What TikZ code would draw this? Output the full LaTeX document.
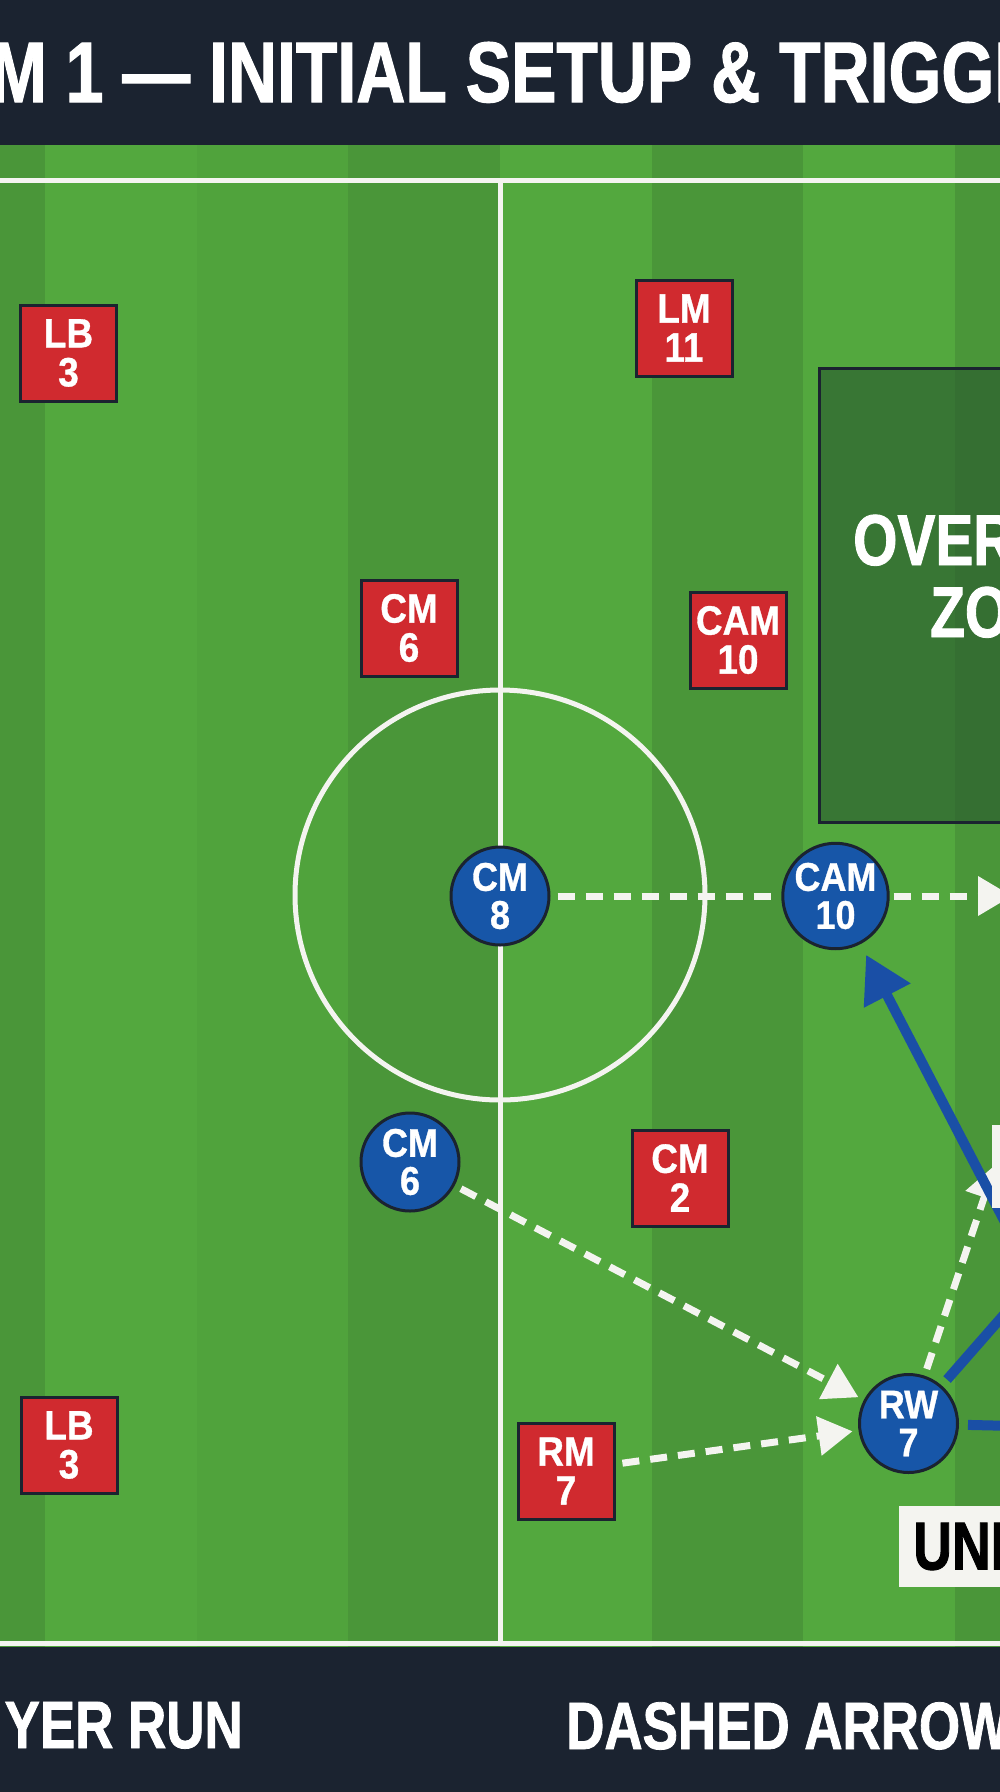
\documentclass[tikz,border=0pt]{standalone}
\usepackage{fontspec}
\usetikzlibrary{arrows.meta}

\newfontfamily\playerfont{Liberation Sans}[FakeStretch=0.9, BoldFeatures={FakeBold=0.8}]
\newfontfamily\headfont{Liberation Sans}[FakeStretch=0.79, BoldFeatures={FakeBold=1.2}]

\definecolor{navy}{HTML}{1B2330}
\definecolor{grassA}{HTML}{4A9639}
\definecolor{grassB}{HTML}{53A83E}
\definecolor{grassC}{HTML}{50A33C}
\definecolor{zonegreen}{HTML}{27552E}
\definecolor{oppred}{HTML}{D02A2F}
\definecolor{mateblue}{HTML}{1756A8}
\definecolor{runblue}{HTML}{1A4FA6}
\definecolor{chalk}{HTML}{F4F4F0}

\pgfdeclarelayer{pitch}
\pgfdeclarelayer{links}
\pgfsetlayers{pitch,links,main}

\tikzset{
    opp/.style={draw=navy, line width=3pt, fill=oppred, minimum size=96pt, inner sep=0pt,
        align=center, text=white, font=\playerfont\bfseries\fontsize{41}{39}\selectfont},
    mate/.style={circle, draw=navy, line width=3pt, fill=mateblue, minimum size=98pt, inner sep=0pt,
        align=center, text=white, font=\playerfont\bfseries\fontsize{40}{38}\selectfont},
    pass/.style={chalk, line width=7pt, dash pattern=on 17pt off 11pt,
        -{Triangle[length=34pt,width=38pt]}, shorten <=7pt, shorten >=6pt},
    run/.style={runblue, line width=10pt, -{Triangle[length=46pt,width=50pt]}},
    chalkline/.style={chalk, line width=5pt},
    headtext/.style={text=white, inner sep=0pt, font=\headfont\bfseries\fontsize{86}{90}\selectfont},
    legtext/.style={text=white, inner sep=0pt, font=\headfont\bfseries\fontsize{67}{70}\selectfont},
    zonetext/.style={text=white, inner sep=0pt, font=\headfont\bfseries\fontsize{72}{76}\selectfont},
    tag/.style={fill=chalk, text=black, inner xsep=14pt, inner ysep=0pt, minimum height=81pt,
        font=\headfont\bfseries\fontsize{68}{70}\selectfont},
}

\begin{document}
\begin{tikzpicture}[x=1pt,y=-1pt]
\useasboundingbox (0,0) rectangle (1000,1792);
\clip (0,0) rectangle (1000,1792);

\begin{pgfonlayer}{pitch}
    \clip (0,0) rectangle (1000,1792);
    % grass stripes
    \foreach \xa/\shade in {-107/grassA,45/grassB,197/grassC,348/grassA,500/grassB,652/grassA,803/grassB,955/grassA}
        \fill[\shade] (\xa,145) rectangle ++(152,1502);
    % markings
    \draw[chalkline] (-10,180) -- (1010,180);
    \draw[chalkline] (-10,1643) -- (1010,1643);
    \draw[chalkline] (500,180) -- (500,1643);
    \draw[chalkline] (500,895) circle[radius=205];
    % overload zone
    \fill[zonegreen, fill opacity=0.6] (819,368) rectangle (1200,822);
    \draw[navy, line width=3pt] (819,368) rectangle (1200,822);
    % bars
    \fill[navy] (0,0) rectangle (1000,145);
    \fill[navy] (0,1647) rectangle (1000,1792);
\end{pgfonlayer}

% header and legend
\node[headtext, anchor=base west] (title) at (-10,102) {M 1 — INITIAL SETUP \& TRIGGE};
\node[legtext, anchor=base east] (legrun) at (243,1748) {YER RUN};
\node[legtext, anchor=base west] (legpass) at (566,1749) {DASHED ARROW};

% zone label
\node[zonetext, anchor=base west] (zoneA) at (853,565) {OVER};
\node[zonetext, anchor=base west] (zoneB) at (930,637) {ZO};

% opponents
\node[opp] (lbtop) at (68.5,353) {LB\\3};
\node[opp] (lm11) at (684,328) {LM\\11};
\node[opp] (cm6r) at (409,628) {CM\\6};
\node[opp] (cam10r) at (738,640) {CAM\\10};
\node[opp] (cm2) at (680,1178) {CM\\2};
\node[opp] (lbbot) at (69,1445) {LB\\3};
\node[opp] (rm7) at (566,1471) {RM\\7};

% team
\node[mate] (cm8) at (500,896) {CM\\8};
\node[mate] (cam10) at (835.5,896) {CAM\\10};
\node[mate] (cm6) at (410,1162) {CM\\6};
\node[mate] (rw7) at (908.5,1423.5) {RW\\7};

% labels
\node[tag, anchor=west] (unmk) at (899,1546.5) {UNMARKED};
\node[tag, anchor=north west, minimum width=110pt, minimum height=83pt] (trig) at (992,1125) {};

\coordinate (fwd) at (1012,896);
\coordinate (runsrc) at (1060,1328);
\coordinate (runhi) at (1100,1205);
\coordinate (runlo) at (1100,1428);
\coordinate (trigtip) at (995,1165);

\begin{pgfonlayer}{links}
    \clip (0,0) rectangle (1000,1792);
    \draw[pass, shorten >=0pt] (cm8) -- (fwd);
    \draw[pass] (cm6) -- (rw7);
    \draw[pass] (rm7) -- (rw7);
    \draw[pass, shorten >=0pt] (rw7) -- (trigtip);
    \draw[run, shorten >=12pt] (runsrc) -- (cam10);
    \draw[runblue, line width=10pt, shorten <=8pt] (rw7) -- (runhi);
    \draw[runblue, line width=10pt, shorten <=9pt] (rw7) -- (runlo);
\end{pgfonlayer}
\end{tikzpicture}
\end{document}
